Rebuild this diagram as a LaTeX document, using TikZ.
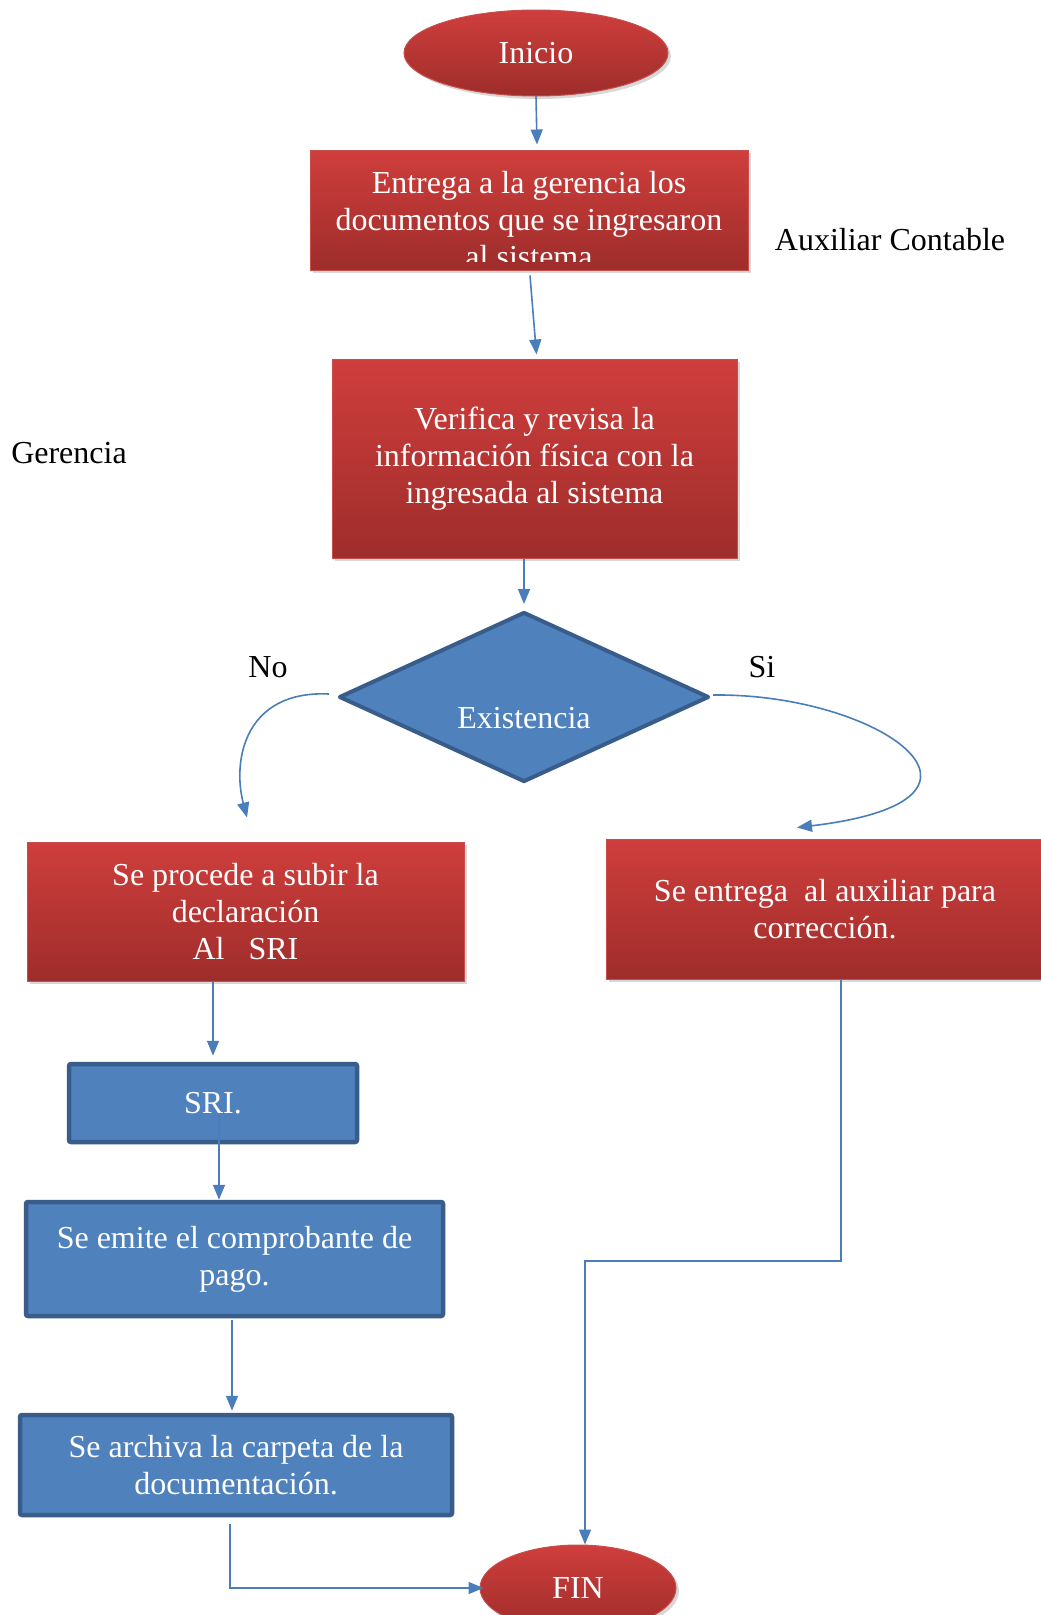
\documentclass[tikz,border=0pt]{standalone}
\usepackage{fontspec}
\setmainfont{Liberation Serif}
\usetikzlibrary{shapes.geometric,arrows.meta,shadows}
\definecolor{redtop}{RGB}{207,62,60}
\definecolor{redbot}{RGB}{158,45,43}
\definecolor{redline}{RGB}{200,78,75}
\definecolor{bluefill}{RGB}{79,129,189}
\definecolor{blueline}{RGB}{56,93,138}
\definecolor{flowline}{RGB}{74,126,187}
\tikzset{
  redbox/.style={rectangle, draw=redline, line width=1pt, top color=redtop, bottom color=redbot,
    text=white, align=center, inner sep=0pt,
    drop shadow={opacity=0.3, shadow xshift=3pt, shadow yshift=-3pt}},
  redterm/.style={redbox, ellipse},
  bluebox/.style={rectangle, fill=bluefill, draw=blueline, line width=4.5pt, rounded corners=2pt,
    text=white, align=center, inner sep=0pt},
  decision/.style={diamond, fill=bluefill, draw=blueline, line width=4pt, line join=round, inner sep=0pt},
  wtext/.style={text=white, align=center, inner sep=0pt},
  lbl/.style={text=black, inner sep=0pt},
  flow/.style={draw=flowline, line width=1.6pt, -{Triangle[length=15pt,width=12pt]}}
}
\begin{document}
\begin{tikzpicture}[x=1pt, y=1pt, font=\fontsize{32pt}{37pt}\selectfont]
\path[use as bounding box, fill=white] (0,0) rectangle (1041,-1615);
% start and first step
\node[redterm, minimum width=264pt, minimum height=86pt] (inicio) at (536,-53) {Inicio};
\node[redbox, minimum width=438pt, minimum height=120pt] (entrega) at (529,-210) {};
\begin{scope}
  \clip (310,-150) rectangle (748,-261);
  \node[wtext] (entregatxt) at (529,-220) {Entrega a la gerencia los\\documentos que se ingresaron\\al sistema};
\end{scope}
\node[lbl] (auxiliar) at (890,-240) {Auxiliar Contable};
\node[lbl] (gerencia) at (69,-453) {Gerencia};
\node[redbox, minimum width=405pt, minimum height=199pt] (verifica) at (534.5,-458.5)
  {Verifica y revisa la\\información física con la\\ingresada al sistema};
% decision
\node[decision, minimum width=370pt, minimum height=170pt] (existencia) at (524,-697) {};
\node[wtext] (existenciatxt) at (524,-718) {Existencia};
\node[lbl] (no) at (268,-667) {No};
\node[lbl] (si) at (762,-667) {Si};
% branches
\node[redbox, minimum width=437pt, minimum height=139pt] (subir) at (245.5,-911.5)
  {Se procede a subir la\\declaración\\Al\ \ \ SRI};
\node[redbox, minimum width=438pt, minimum height=140pt] (correccion) at (825,-909)
  {Se entrega \ al auxiliar para\\corrección.};
\node[bluebox, minimum width=288pt, minimum height=78pt] (sri) at (213,-1103) {SRI.};
\node[bluebox, minimum width=417pt, minimum height=114pt] (emite) at (234.5,-1259)
  {Se emite el comprobante de\\pago.};
\node[bluebox, minimum width=432pt, minimum height=100pt] (archiva) at (236,-1465)
  {Se archiva la carpeta de la\\documentación.};
\node[redterm, minimum width=196pt, minimum height=86pt] (fin) at (578,-1588) {FIN};
\coordinate (bend) at (585,-1261);
% connectors
\draw[flow] (inicio.south) -- ([xshift=8pt,yshift=5pt]entrega.north);
\draw[flow] ([xshift=1pt,yshift=-5pt]entrega.south) -- ([xshift=2pt,yshift=4pt]verifica.north);
\draw[flow] ([xshift=-10.5pt]verifica.south) -- ([yshift=6pt]existencia.north);
\draw[flow] ([xshift=-8pt,yshift=3pt]existencia.west) .. controls (245,-690) and (232,-760) .. ([xshift=1.5pt,yshift=24pt]subir.north);
\draw[flow] ([xshift=2pt,yshift=2pt]existencia.east) .. controls (880,-693) and (1030,-800) .. ([xshift=-28pt,yshift=11pt]correccion.north);
\draw[flow] (subir.south -| sri.north) -- ([yshift=6pt]sri.north);
\draw[flow] ([xshift=6pt,yshift=-12pt]sri.center) -- ([xshift=-15.5pt]emite.north);
\draw[flow] ([xshift=-2.5pt,yshift=-2pt]emite.south) -- ([xshift=-4pt,yshift=2pt]archiva.north);
\draw[flow] ([xshift=-6pt,yshift=-7pt]archiva.south) |- ([xshift=4pt]fin.west);
\draw[flow] ([xshift=16pt]correccion.south) |- (bend) -- ([xshift=7pt]fin.north);
\end{tikzpicture}
\end{document}
